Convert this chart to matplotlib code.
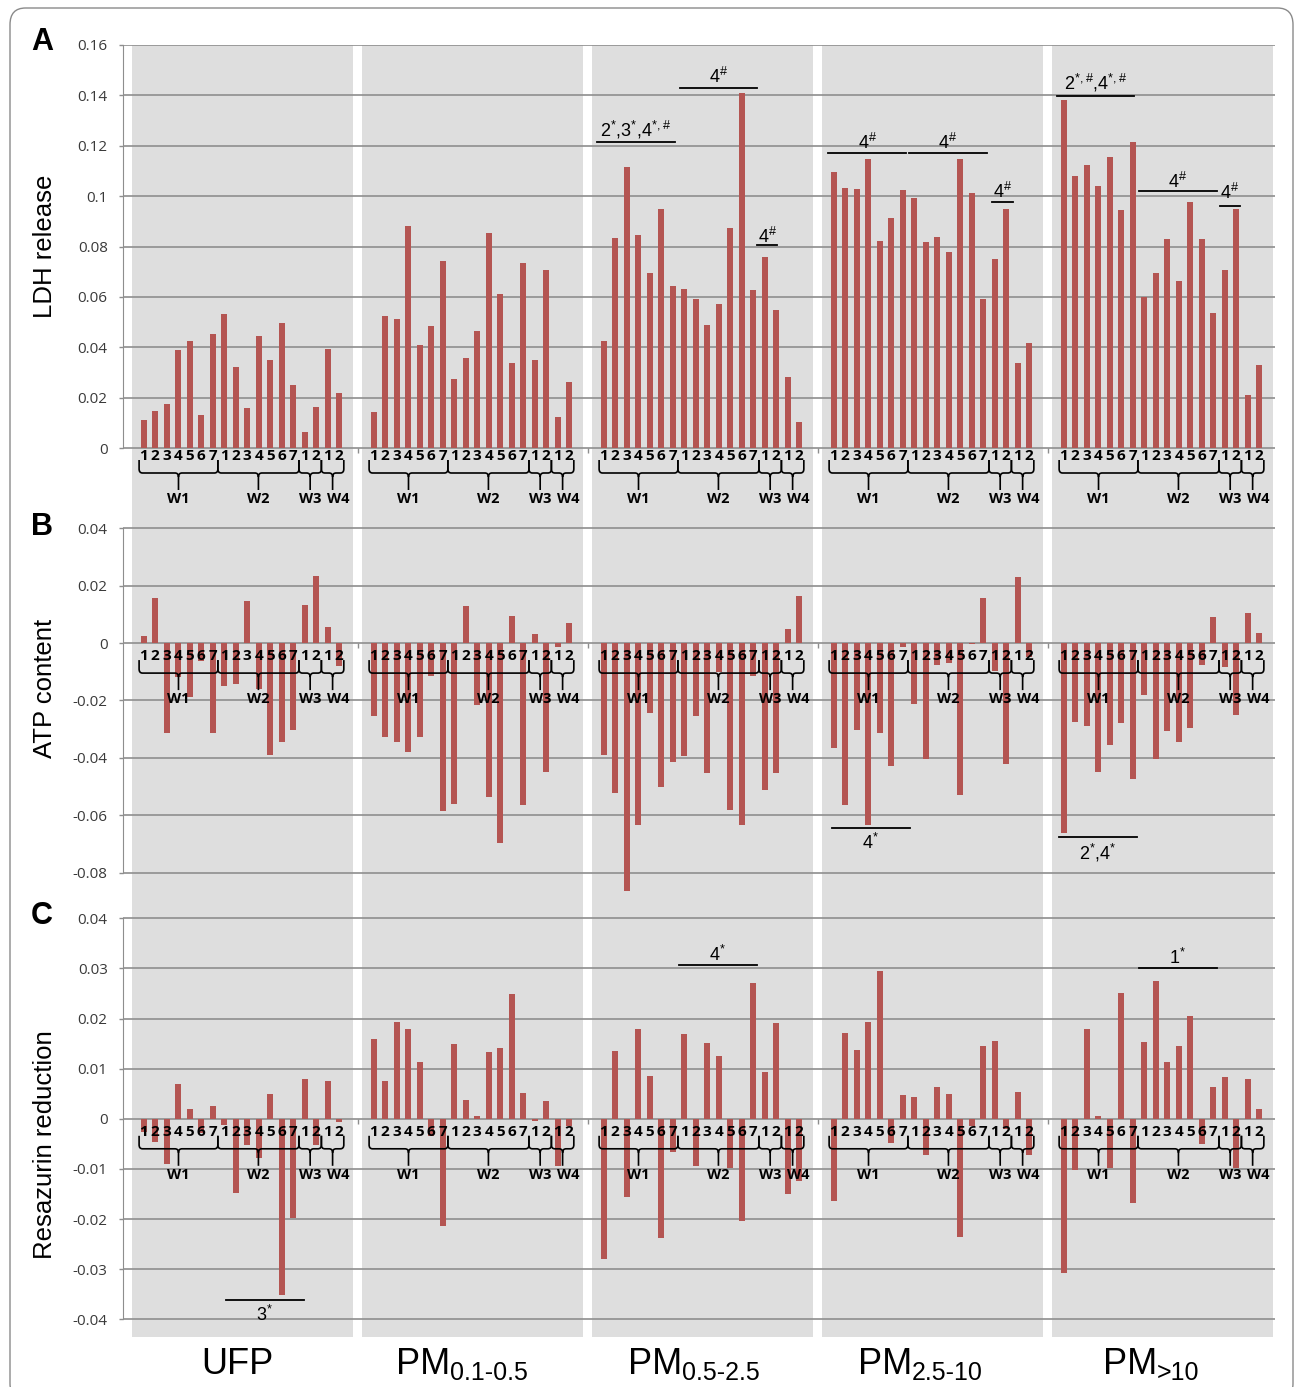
import numpy as np
import matplotlib
matplotlib.use("Agg")
import matplotlib.pyplot as plt
from matplotlib.path import Path
from matplotlib.patches import PathPatch, FancyBboxPatch

plt.rcParams['mathtext.fontset'] = 'custom'
plt.rcParams['mathtext.rm'] = 'Liberation Sans'
plt.rcParams['mathtext.default'] = 'regular'

# ---- data ----
groups = ["UFP", "PM", "PM", "PM", "PM"]
group_subs = ["", "0.1-0.5", "0.5-2.5", "2.5-10", ">10"]
bar_labels = list("1234567") + list("1234567") + list("12") + list("12")
week_labels = ["W1", "W2", "W3", "W4"]

ldh_ufp = [0.011, 0.0146, 0.0174, 0.0388, 0.0424, 0.0133, 0.0452, 0.0532, 0.0321, 0.0159, 0.0443, 0.0349, 0.0496, 0.0249, 0.0065, 0.0164, 0.0392, 0.0217]
ldh_pm01 = [0.0141, 0.0526, 0.0514, 0.0883, 0.0407, 0.0484, 0.0744, 0.0272, 0.0357, 0.0465, 0.0855, 0.0612, 0.0339, 0.0733, 0.0351, 0.0708, 0.0123, 0.0262]
ldh_pm05 = [0.0423, 0.0832, 0.1115, 0.0846, 0.0693, 0.0949, 0.0643, 0.0630, 0.0590, 0.0490, 0.0571, 0.0872, 0.1409, 0.0626, 0.0760, 0.0549, 0.0280, 0.0105]
ldh_pm25 = [0.1095, 0.1034, 0.1029, 0.1149, 0.0822, 0.0912, 0.1025, 0.0993, 0.0818, 0.0839, 0.0778, 0.1149, 0.1011, 0.0593, 0.0750, 0.0949, 0.0338, 0.0415]
ldh_pm10 = [0.1380, 0.1079, 0.1124, 0.1042, 0.1156, 0.0944, 0.1214, 0.0600, 0.0693, 0.0828, 0.0665, 0.0976, 0.0828, 0.0536, 0.0707, 0.0949, 0.0212, 0.0330]

atp_ufp = [0.0026, 0.0157, -0.0313, -0.0117, -0.0188, -0.0062, -0.0313, -0.0151, -0.0144, 0.0145, -0.0160, -0.0391, -0.0343, -0.0304, 0.0132, 0.0235, 0.0057, -0.0080]
atp_pm01 = [-0.0255, -0.0327, -0.0346, -0.0379, -0.0327, -0.0116, -0.0585, -0.0560, 0.0129, -0.0214, -0.0537, -0.0698, 0.0096, -0.0565, 0.0033, -0.0449, -0.0013, 0.0069]
atp_pm05 = [-0.0391, -0.0522, -0.0865, -0.0635, -0.0243, -0.0501, -0.0414, -0.0394, -0.0255, -0.0454, -0.0100, -0.0580, -0.0633, -0.0115, -0.0512, -0.0454, 0.0049, 0.0163]
atp_pm25 = [-0.0366, -0.0565, -0.0304, -0.0635, -0.0313, -0.0427, -0.0013, -0.0212, -0.0405, -0.0075, -0.0070, -0.0530, -0.0004, 0.0157, -0.0097, -0.0421, 0.0230, -0.0050]
atp_pm10 = [-0.0661, -0.0275, -0.0288, -0.0449, -0.0354, -0.0280, -0.0474, -0.0182, -0.0404, -0.0308, -0.0343, -0.0296, -0.0076, 0.0092, -0.0082, -0.0251, 0.0104, 0.0034]

res_ufp = [-0.0027, -0.0047, -0.0090, 0.0070, 0.0019, -0.0029, 0.0025, -0.0013, -0.0148, -0.0053, -0.0078, 0.0050, -0.0351, -0.0197, 0.0079, -0.0052, 0.0075, -0.0007]
res_pm01 = [0.0160, 0.0075, 0.0193, 0.0180, 0.0113, -0.0035, -0.0213, 0.0149, 0.0037, 0.0005, 0.0133, 0.0142, 0.0248, 0.0052, -0.0005, 0.0035, -0.0095, -0.0015]
res_pm05 = [-0.0280, 0.0136, -0.0156, 0.0180, 0.0086, -0.0237, -0.0066, 0.0169, -0.0095, 0.0151, 0.0126, -0.0098, -0.0203, 0.0270, 0.0093, 0.0191, -0.0150, -0.0125]
res_pm25 = [-0.0163, 0.0171, 0.0138, 0.0193, 0.0294, -0.0049, 0.0048, 0.0043, -0.0072, 0.0063, 0.0050, -0.0235, -0.0015, 0.0146, 0.0155, -0.0020, 0.0054, -0.0072]
res_pm10 = [-0.0308, -0.0102, 0.0180, 0.0005, -0.0098, 0.0250, -0.0167, 0.0153, 0.0274, 0.0113, 0.0146, 0.0205, -0.0050, 0.0063, 0.0084, -0.0098, 0.0079, 0.0019]

ldh_ticks = [0, 0.02, 0.04, 0.06, 0.08, 0.1, 0.12, 0.14, 0.16]
atp_ticks = [-0.08, -0.06, -0.04, -0.02, 0, 0.02, 0.04]
res_ticks = [-0.04, -0.03, -0.02, -0.01, 0, 0.01, 0.02, 0.03, 0.04]

# significance marks: (x start, x end, y of line, text, y of text)
ldh_marks = [(39.42, 46.2, 0.1214, r"2$^{*}$,3$^{*}$,4$^{*,\#}$", 0.1262),
             (46.64, 53.36, 0.1428, r"4$^{\#}$", 0.1472),
             (53.36, 55.1, 0.0806, r"4$^{\#}$", 0.0839),
             (59.5, 66.3, 0.1172, r"4$^{\#}$", 0.1212),
             (66.55, 73.3, 0.1172, r"4$^{\#}$", 0.1212),
             (73.8, 75.6, 0.0977, r"4$^{\#}$", 0.1018),
             (79.4, 86.1, 0.1398, r"2$^{*,\#}$,4$^{*,\#}$", 0.1448),
             (86.56, 93.3, 0.1022, r"4$^{\#}$", 0.1057),
             (93.6, 95.3, 0.0962, r"4$^{\#}$", 0.1011)]
atp_marks = [(59.85, 66.6, -0.0645, r"4$^{*}$", -0.0698),
             (79.6, 86.4, -0.0677, r"2$^{*}$,4$^{*}$", -0.0732)]
res_marks = [(7.15, 13.9, -0.0362, r"3$^{*}$", -0.0391),
             (46.56, 53.3, 0.0306, r"4$^{*}$", 0.0327),
             (86.56, 93.3, 0.0300, r"1$^{*}$", 0.0320)]

# ---- style ----
BAR = "#b45552"
BAND = "#dedede"
GRID = "#8e8e8e"
W, H = 1295, 1387

fig = plt.figure(figsize=(W / 100, H / 100), dpi=100)

def fx(px):
    return px / W

def fy(px):
    return 1 - px / H

# panels: top px, bottom px, ylim, ticks, data, px per unit, label shift, ylabel, ylabel center, letter, letter y
panels = [
    (45, 515, (-0.0266, 0.16), ldh_ticks, [ldh_ufp, ldh_pm01, ldh_pm05, ldh_pm25, ldh_pm10], 2519, 0,
     "LDH release", 246, "A", 42, ldh_marks),
    (515, 897, (-0.08847, 0.04463), atp_ticks, [atp_ufp, atp_pm01, atp_pm05, atp_pm25, atp_pm10], 2870, 5,
     "ATP content", 688, "B", 527, atp_marks),
    (897, 1337, (-0.04353, 0.04425), res_ticks, [res_ufp, res_pm01, res_pm05, res_pm25, res_pm10], 5012, 5,
     "Resazurin reduction", 1145, "C", 916, res_marks),
]

week_edges = [-0.4, 6.45, 13.5, 15.45, 17.4]
week_text_x = [3.0, 10.0, 14.48, 16.9]


def draw_brace(ax, x0, x1, pxu, shift):
    top = -(12 + shift) / pxu
    line = -(25 + shift) / pxu
    c = 4 / pxu
    tip = -(29 + shift) / pxu
    stem = -(42 + shift) / pxu
    xm = (x0 + x1) / 2
    r = 0.3
    verts = [(x0, top), (x0, line + c), (x0, line), (x0 + r, line), (xm - r, line), (xm, line), (xm, tip), (xm, stem),
             (xm, tip), (xm, line), (xm + r, line), (x1 - r, line), (x1, line), (x1, line + c), (x1, top)]
    codes = [Path.MOVETO, Path.LINETO, Path.CURVE3, Path.CURVE3, Path.LINETO, Path.CURVE3, Path.CURVE3, Path.LINETO,
             Path.MOVETO, Path.CURVE3, Path.CURVE3, Path.LINETO, Path.CURVE3, Path.CURVE3, Path.LINETO]
    ax.add_patch(PathPatch(Path(verts, codes), fill=False, edgecolor="black", lw=1.2, zorder=4,
                           clip_on=False))


for (top_px, bot_px, ylim, ticks, data, pxu, shift, ylabel, ylab_y, letter, letter_y, marks) in panels:
    ax = fig.add_axes([fx(123), fy(bot_px), fx(1275 - 123), (bot_px - top_px) / H])
    ax.set_xlim(-1.8, 98.37)
    ax.set_ylim(*ylim)
    for g in range(5):
        ax.axvspan(20 * g - 1.01, 20 * g + 18.23, color=BAND, lw=0, zorder=0.2)
        x = 20 * g + np.arange(18)
        ax.bar(x, data[g], width=0.5, color=BAR, zorder=2)
        # bar number labels under the zero line
        for xi, lab in zip(x, bar_labels):
            ax.text(xi, -(8 + shift) / pxu, lab, ha="center", va="center", fontsize=11,
                    fontweight="bold", family="Open Sans", zorder=5)
        # braces with week labels
        for k in range(4):
            draw_brace(ax, 20 * g + week_edges[k], 20 * g + week_edges[k + 1], pxu, shift)
            ax.text(20 * g + week_text_x[k], -(51 + shift) / pxu, week_labels[k], ha="center", va="center",
                    fontsize=10.5, fontweight="bold", family="Open Sans", zorder=5)
    # small marks on the zero line between groups
    ax.vlines([18.6, 38.6, 58.6, 78.6], -5 / pxu, 0, color=GRID, lw=1, zorder=1)

    for x0, x1, yl, txt, yt in marks:
        ax.plot([x0, x1], [yl, yl], color="black", lw=1.3, zorder=4)
        ax.text((x0 + x1) / 2, yt, txt, ha="center", va="center", fontsize=13, family="Liberation Sans", zorder=5)

    ax.set_yticks(ticks)
    ax.set_yticklabels(["%g" % t for t in ticks])
    ax.yaxis.grid(True, color=GRID, lw=1.2)
    ax.set_axisbelow(True)
    ax.set_xticks([])
    ax.tick_params(axis="y", length=3, width=1, color=GRID, pad=8, labelsize=11, labelcolor="#3a3a3a")
    for t in ax.get_yticklabels():
        t.set_fontfamily("Open Sans")
    for s in ["top", "right", "bottom"]:
        ax.spines[s].set_visible(False)
    ax.spines["left"].set_color(GRID)
    ax.spines["left"].set_bounds(min(ticks), max(ticks))
    ax.patch.set_alpha(0)

    fig.text(fx(45), fy(ylab_y), ylabel, rotation=90, ha="center", va="center", fontsize=18.5,
             family="Liberation Sans")
    fig.text(fx(42), fy(letter_y), letter, ha="center", va="center", fontsize=22, fontweight="bold",
             family="Liberation Sans")

# group names along the bottom
centers = [143.7 + (20 * g + 8.6) * 11.5 for g in range(5)]
fig.text(fx(centers[0] - 5.6), fy(1374), groups[0], ha="center", va="baseline", fontsize=26,
         family="Liberation Sans")
offsets = [0, -22.6, -20.6, -20.6, -5.6]
for g in range(1, 5):
    j = centers[g] + offsets[g]
    fig.text(fx(j), fy(1374), groups[g], ha="right", va="baseline", fontsize=26, family="Liberation Sans")
    fig.text(fx(j), fy(1380), group_subs[g], ha="left", va="baseline", fontsize=18, family="Liberation Sans")

# rounded frame around the whole figure (bottom edge runs off the page)
frame = FancyBboxPatch((fx(10), fy(1400)), fx(1283), (1400 - 8) / H,
                       boxstyle="round,pad=0,rounding_size=0.012", transform=fig.transFigure,
                       fill=False, edgecolor="#8a8a8a", lw=1.0)
fig.patches.append(frame)

fig.savefig("out.png", dpi=100)
